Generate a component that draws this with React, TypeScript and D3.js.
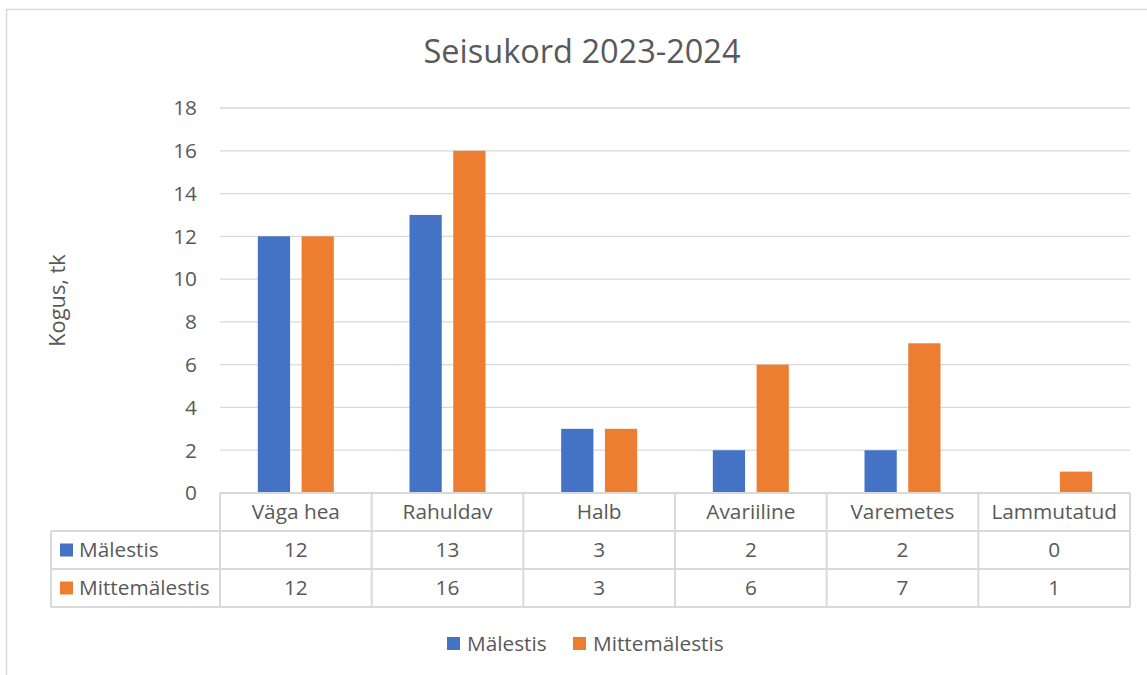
import React, { useEffect, useRef } from "react";
import * as d3 from "d3";

const categories = ["Väga hea", "Rahuldav", "Halb", "Avariiline", "Varemetes", "Lammutatud"];
const seriesNames = ["Mälestis", "Mittemälestis"];
const malestis = [12, 13, 3, 2, 2, 0];
const mittemalestis = [12, 16, 3, 6, 7, 1];
const yTicks = [0, 2, 4, 6, 8, 10, 12, 14, 16, 18];
const colors = ["#4472C4", "#ED7D31"];

const W = 1147;
const H = 675;
const FONT = "'Open Sans', 'Noto Sans', sans-serif";
const TEXT = "#595959";
const GRID = "#d9d9d9";
const FS = 20.8;

const App = () => {
    const svgRef = useRef<SVGSVGElement>(null);

    useEffect(() => {
        const svg = d3.select(svgRef.current);
        svg.selectAll("*").remove();

        const plot = { left: 220, right: 1130, top: 108, bottom: 493 };
        const rowH = 38;
        const tableLeft = 51;
        const series = [malestis, mittemalestis];

        // chart border
        svg.append("rect")
            .attr("x", 6.5).attr("y", 9.5)
            .attr("width", W + 20).attr("height", H + 20)
            .attr("fill", "#fff").attr("stroke", GRID).attr("stroke-width", 1.5);

        svg.append("text")
            .attr("x", 582).attr("y", 63)
            .attr("text-anchor", "middle")
            .attr("font-size", 32.5).attr("fill", TEXT)
            .text("Seisukord 2023-2024");

        const x = d3.scaleBand().domain(categories).range([plot.left, plot.right]);
        const y = d3.scaleLinear().domain([0, 18]).range([plot.bottom, plot.top]);

        // gridlines
        svg.append("g").selectAll("line").data(yTicks.slice(1)).join("line")
            .attr("x1", plot.left).attr("x2", plot.right)
            .attr("y1", (d) => y(d)).attr("y2", (d) => y(d))
            .attr("stroke", GRID).attr("stroke-width", 1.3);

        svg.append("g").selectAll("text").data(yTicks).join("text")
            .attr("x", 197).attr("y", (d) => y(d))
            .attr("dy", "0.35em").attr("text-anchor", "end")
            .attr("font-size", FS).attr("fill", TEXT)
            .text((d) => d);

        svg.append("text")
            .attr("transform", `translate(65,${(plot.top + plot.bottom) / 2}) rotate(-90)`)
            .attr("text-anchor", "middle")
            .attr("font-size", FS + 1).attr("fill", TEXT)
            .text("Kogus, tk");

        // bars
        const barW = 33;
        const gap = 10;
        const inner = d3.scaleBand<number>().domain([0, 1])
            .range([x.bandwidth() / 2 - barW - gap / 2, x.bandwidth() / 2 + barW + gap / 2])
            .paddingInner(gap / (barW * 2 + gap) * 2);

        series.forEach((vals, si) => {
            svg.append("g").selectAll("rect").data(vals).join("rect")
                .attr("x", (_, i) => (x(categories[i]) ?? 0) + (inner(si) ?? 0))
                .attr("y", (d) => y(d))
                .attr("width", inner.bandwidth())
                .attr("height", (d) => y(0) - y(d))
                .attr("fill", colors[si]);
        });

        // data table
        const tg = svg.append("g").attr("stroke", GRID).attr("stroke-width", 2).attr("fill", "none");
        const t0 = plot.bottom;
        const t1 = t0 + rowH;
        const t3 = t0 + rowH * 3;
        tg.append("line").attr("x1", plot.left).attr("x2", plot.right).attr("y1", t0).attr("y2", t0);
        [1, 2, 3].forEach((r) => {
            tg.append("line").attr("x1", tableLeft).attr("x2", plot.right)
                .attr("y1", t0 + r * rowH).attr("y2", t0 + r * rowH);
        });
        tg.append("line").attr("x1", tableLeft).attr("x2", tableLeft).attr("y1", t1).attr("y2", t3);
        const edges = categories.map((c) => x(c) ?? 0).concat([plot.right]);
        tg.selectAll(".v").data(edges).join("line")
            .attr("x1", (d) => d).attr("x2", (d) => d)
            .attr("y1", t0).attr("y2", t3);

        svg.append("g").selectAll("text").data(categories).join("text")
            .attr("x", (d) => (x(d) ?? 0) + x.bandwidth() / 2)
            .attr("y", t0 + rowH / 2).attr("dy", "0.35em")
            .attr("text-anchor", "middle").attr("font-size", FS).attr("fill", TEXT)
            .text((d) => d);

        series.forEach((vals, si) => {
            const cy = t1 + rowH * si + rowH / 2;
            svg.append("rect").attr("x", 60).attr("y", cy - 6.5)
                .attr("width", 13).attr("height", 13).attr("fill", colors[si]);
            svg.append("text").attr("x", 79).attr("y", cy).attr("dy", "0.35em")
                .attr("font-size", FS).attr("fill", TEXT).text(seriesNames[si]);
            svg.append("g").selectAll("text").data(vals).join("text")
                .attr("x", (_, i) => (x(categories[i]) ?? 0) + x.bandwidth() / 2)
                .attr("y", cy).attr("dy", "0.35em")
                .attr("text-anchor", "middle").attr("font-size", FS).attr("fill", TEXT)
                .text((d) => d);
        });

        // legend
        const legend = svg.append("g");
        const legendX = [447, 573];
        seriesNames.forEach((name, si) => {
            legend.append("rect").attr("x", legendX[si]).attr("y", 637)
                .attr("width", 13).attr("height", 13).attr("fill", colors[si]);
            legend.append("text").attr("x", legendX[si] + 20).attr("y", 643.5).attr("dy", "0.35em")
                .attr("font-size", FS).attr("fill", TEXT).text(name);
        });
    }, []);

    return (
        <svg
            ref={svgRef}
            width={W}
            height={H}
            style={{ position: "absolute", left: 0, top: 0, fontFamily: FONT, background: "#fff" }}
        ></svg>
    );
};

export default App;
